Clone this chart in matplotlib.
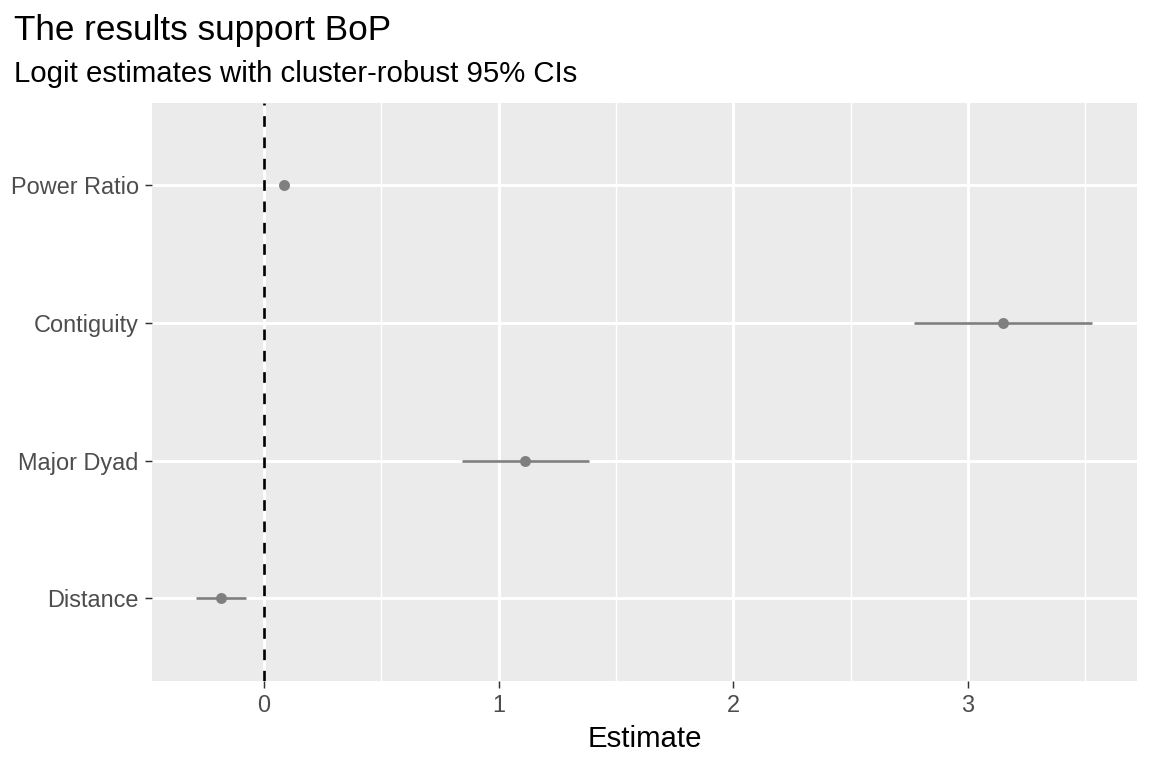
import matplotlib.pyplot as plt
import numpy as np

plt.rcParams['font.family'] = ['Liberation Sans', 'DejaVu Sans']

# coefficient estimates with 95% CI, bottom to top
terms = ["Distance", "Major Dyad", "Contiguity", "Power Ratio"]
estimate = [-0.183, 1.112, 3.150, 0.085]
ci_low = [-0.290, 0.844, 2.769, 0.080]
ci_high = [-0.077, 1.385, 3.528, 0.090]

fig = plt.figure(figsize=(6, 4), dpi=192)
ax = fig.add_axes([0.132, 0.1135, 0.855, 0.7525])
ax.set_facecolor("#EBEBEB")

y = np.arange(1, len(terms) + 1)

ax.set_xlim(-0.477, 3.72)
ax.set_ylim(0.4, 4.6)

# grid like ggplot theme_grey
for v in [0.5, 1.5, 2.5, 3.5]:
    ax.axvline(v, color="white", lw=0.55, zorder=1)
for v in [0, 1, 2, 3]:
    ax.axvline(v, color="white", lw=1.1, zorder=1)
for v in y:
    ax.axhline(v, color="white", lw=1.1, zorder=1)

ax.axvline(0, color="black", lw=1.0, ls=(0, (4, 4)), zorder=2)

ax.hlines(y, ci_low, ci_high, color="#7F7F7F", lw=1.0, zorder=3)
ax.plot(estimate, y, "o", color="#7F7F7F", ms=3.1, zorder=4)

ax.set_xticks([0, 1, 2, 3])
ax.set_yticks(y)
ax.set_yticklabels(terms)
ax.tick_params(axis="both", length=2.75, width=0.55, color="#333333",
               labelsize=8.8, labelcolor="#4D4D4D", pad=2.2)
for s in ax.spines.values():
    s.set_visible(False)

ax.set_xlabel("Estimate", fontsize=11, color="black", labelpad=3)

fig.text(0.012, 0.948, "The results support BoP", fontsize=13.2, color="black",
         ha="left", va="baseline")
fig.text(0.012, 0.893, "Logit estimates with cluster-robust 95% CIs", fontsize=11,
         color="black", ha="left", va="baseline")

fig.savefig("out.png", dpi=192)
